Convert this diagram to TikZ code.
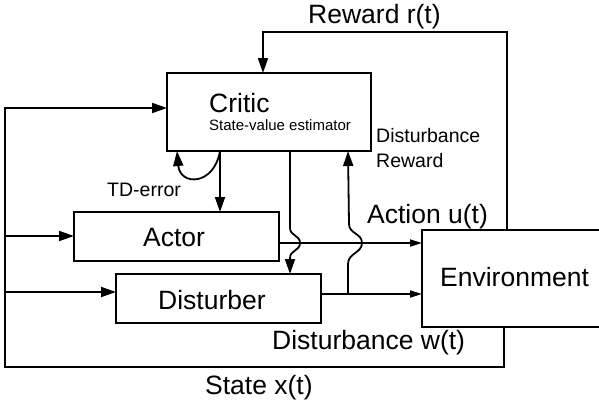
\documentclass[tikz,border=0pt]{standalone}
\usepackage{fontspec}
\setmainfont{Liberation Sans}
\usetikzlibrary{positioning,arrows.meta}

\tikzset{
  block/.style={draw, line width=1.8pt, outer sep=0pt, inner sep=0pt},
  wire/.style={line width=1.8pt, -{Triangle[length=15pt,width=10pt]}},
  plain/.style={line width=1.8pt},
  envwire/.style={line width=1.8pt, -{Triangle[length=12pt,width=7pt]}},
  biglabel/.style={inner sep=0pt, anchor=base west, font=\fontsize{26.5}{30}\selectfont},
  smalllabel/.style={inner sep=0pt, anchor=base west, font=\fontsize{19.5}{25}\selectfont, align=left},
}

\begin{document}
\begin{tikzpicture}[x=1pt, y=-1pt]
  \useasboundingbox (0,0) rectangle (599,405);

  % blocks
  \node[block, minimum width=204pt, minimum height=78pt] (critic) at (269,112) {};
  \node[block, minimum width=205pt, minimum height=49pt,
        below left=61pt and 93pt of critic.south west, anchor=north west] (actor) {};
  \node[block, minimum width=205pt, minimum height=49pt,
        below right=13pt and 42pt of actor.south west, anchor=north west] (disturber) {};
  \node[block, minimum width=182pt, minimum height=97pt,
        below right=18pt and 143pt of actor.north east, anchor=north west] (environment) {};

  % texts in the blocks
  \node[biglabel] (critictxt) at (209,112) {Critic};
  \node[inner sep=0pt, anchor=base west, font=\fontsize{15}{18}\selectfont] (critictxt2) at (209,130) {State-value estimator};
  \node[biglabel] (actortxt) at (143,246) {Actor};
  \node[biglabel] (disturbertxt) at (158,309) {Disturber};
  \node[biglabel] (envtxt) at (440,286) {Environment};

  % helper points
  \coordinate (stateR) at (504,367);
  \coordinate (stateL) at (5,367);
  \coordinate (stateT) at (5,108);
  \coordinate (stateA) at (5,236);
  \coordinate (stateD) at (5,292);
  \coordinate (rewR) at (507,32);
  \coordinate (rewL) at (263,32);
  \coordinate (tdout) at (220,151);
  \coordinate (tdin) at (177,151);
  \coordinate (crit2dist) at (290,151);
  \coordinate (act) at ([yshift=-6.5pt]actor.east);
  \coordinate (dout) at ([yshift=4.5pt]disturber.east);
  \coordinate (drew) at ([xshift=27pt]dout);

  % state feedback
  \draw[wire] (environment.south -| stateR) -- (stateR) -- (stateL) -- (stateT) -- (stateT -| critic.west);
  \draw[wire] (stateA) -- (stateA -| actor.west);
  \draw[wire] (stateD) -- (stateD -| disturber.west);

  % reward
  \draw[wire] (environment.north -| rewR) -- (rewR) -- (rewL) -- (rewL |- critic.north);

  % TD-error
  \draw[wire] (tdout) .. controls (214,186) and (180,186) .. (tdin);
  \draw[wire] (tdout) -- (tdout |- actor.north);

  % critic to disturber, hopping over the action line
  \draw[wire] (crit2dist) -- (290,228) .. controls (290,236) and (300,235) .. (300,243)
    .. controls (300,251) and (290,250) .. (290,258) -- (crit2dist |- disturber.north);

  % action and disturbance
  \draw[envwire] (act) -- (act -| environment.west);
  \draw[envwire] (dout) -- (dout -| environment.west);

  % disturbance reward back to critic
  \draw[wire] (drew) -- (348,264) .. controls (348,253) and (362,253) .. (362,243)
    .. controls (362,233) and (349,234) .. (349,224) -- (drew |- critic.south);

  % labels
  \node[biglabel] (rewardlbl) at (308,23) {Reward r(t)};
  \node[smalllabel] (tdlbl) at (107,196) {TD-error};
  \node[smalllabel] (drlbl) at (376,167) {Disturbance\\Reward};
  \node[biglabel] (actionlbl) at (367,223) {Action u(t)};
  \node[biglabel] (wlbl) at (272,349) {Disturbance w(t)};
  \node[biglabel] (statelbl) at (205,394) {State x(t)};
\end{tikzpicture}
\end{document}
